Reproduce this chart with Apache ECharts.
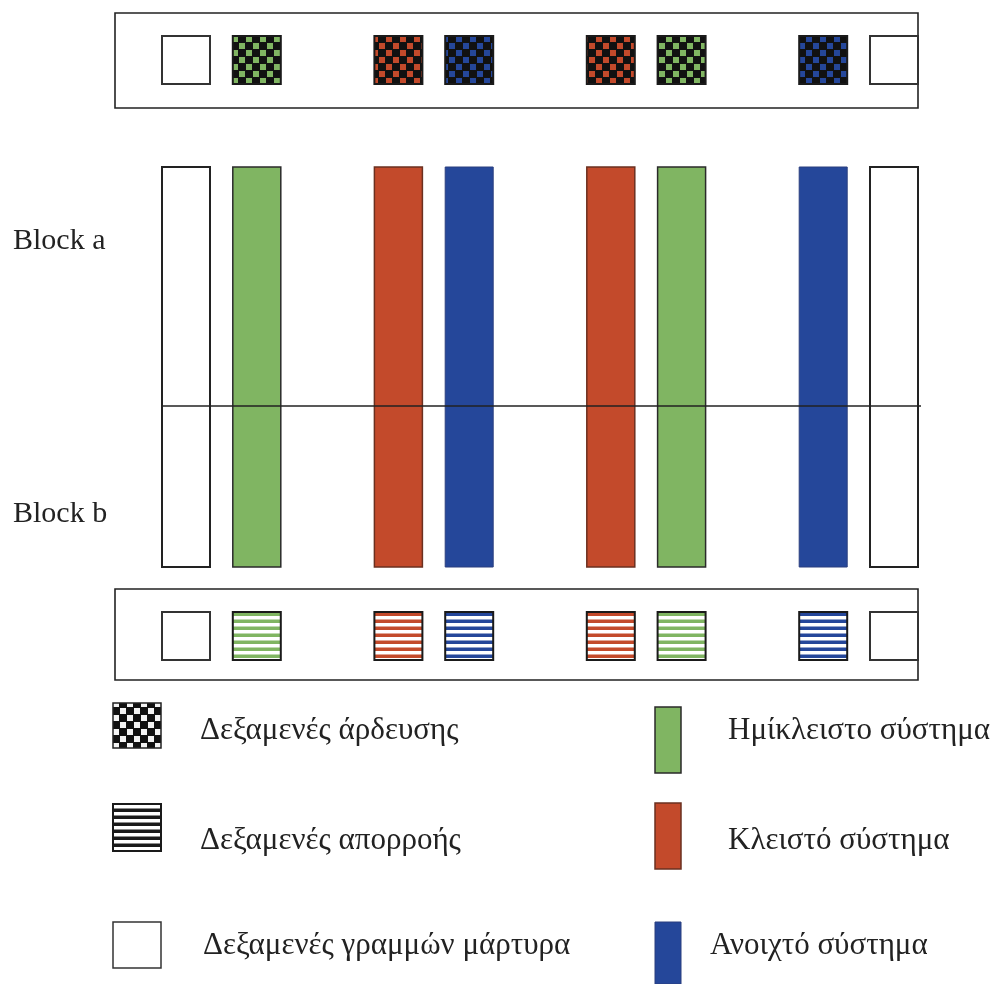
<!DOCTYPE html>
<html>
<head>
<meta charset="utf-8">
<script src="https://cdn.jsdelivr.net/npm/echarts@6/dist/echarts.min.js"></script>
<style>
html,body{margin:0;padding:0;background:#fff;}
#c{width:999px;height:984px;}
</style>
</head>
<body>
<div id="c"></div>
<script>
// ---- data ----
const plotSlots = [0, 1, 3, 4, 6, 7, 9, 10];
const plotSystems = ['control', 'semi', 'closed', 'open', 'closed', 'semi', 'open', 'control'];
const blockNames = ['Block a', 'Block b'];
const blockBoundary = 40.25; // % of plot length from bottom where block a meets block b
const tankLegend = ['Δεξαμενές άρδευσης', 'Δεξαμενές απορροής', 'Δεξαμενές γραμμών μάρτυρα'];
const systemLegendKeys = ['semi', 'closed', 'open'];
const systemLegend = ['Ημίκλειστο σύστημα', 'Κλειστό σύστημα', 'Ανοιχτό σύστημα'];

// ---- styles ----
const FONT = '"Liberation Serif", "DejaVu Serif", serif';
const sysColor = { control: '#ffffff', semi: '#80b562', closed: '#c34a2b', open: '#25479a' };
const sysStroke = { control: '#222', semi: '#2a2a2a', closed: '#6b3020', open: '#2b3f7e' };
const sysLine = { control: 2, semi: 1.5, closed: 1.5, open: 1 };

function checker(color, cell) {
  const c = document.createElement('canvas');
  c.width = cell * 2; c.height = cell * 2;
  const g = c.getContext('2d');
  g.fillStyle = '#111'; g.fillRect(0, 0, c.width, c.height);
  g.fillStyle = color;
  g.fillRect(1, 1, cell - 1, cell - 1);
  g.fillRect(cell + 1, cell + 1, cell - 1, cell - 1);
  return { image: c, repeat: 'repeat' };
}
function stripes(color, period, lw) {
  const c = document.createElement('canvas');
  c.width = 4; c.height = period;
  const g = c.getContext('2d');
  g.fillStyle = '#fff'; g.fillRect(0, 0, c.width, c.height);
  g.fillStyle = color; g.fillRect(0, period - lw, c.width, lw);
  return { image: c, repeat: 'repeat' };
}

const chart = echarts.init(document.getElementById('c'), null, { renderer: 'canvas' });
const BAR_W = 48, TANK = 48;

function barItem(params, api) {
  const i = api.value(1);
  const sys = plotSystems[i];
  const top = api.coord([api.value(0), 100]);
  const bot = api.coord([api.value(0), 0]);
  return {
    type: 'rect',
    shape: { x: top[0] - BAR_W / 2, y: top[1], width: BAR_W, height: bot[1] - top[1] },
    style: { fill: sysColor[sys], stroke: sysStroke[sys], lineWidth: sysLine[sys] }
  };
}
function tankItem(kind) {
  return function (params, api) {
    const i = api.value(1);
    const sys = plotSystems[i];
    const p = api.coord([api.value(0), 0]);
    const cs = params.coordSys;
    const y = kind === 'irrigation' ? cs.y - 131 : cs.y + cs.height + 45;
    let fill;
    if (sys === 'control') fill = '#fff';
    else if (kind === 'irrigation') fill = checker(sysColor[sys], 7);
    else fill = stripes(sysColor[sys], 7, 3.5);
    return {
      type: 'rect',
      shape: { x: p[0] - TANK / 2, y: y, width: TANK, height: TANK },
      style: { fill: fill, stroke: sys === 'control' ? '#333' : '#1a1a1a', lineWidth: 2 }
    };
  };
}
function boundaryItem(params, api) {
  const v = api.value(0);
  const a = api.coord([plotSlots[0], v]);
  const b = api.coord([plotSlots[plotSlots.length - 1], v]);
  return {
    type: 'line',
    shape: { x1: a[0] - BAR_W / 2, y1: a[1], x2: b[0] + BAR_W / 2 + 3, y2: b[1] },
    style: { stroke: '#222', lineWidth: 1.6 }
  };
}

const plotData = plotSlots.map((s, i) => [s, i]);

const legendRows = [731, 841, 946];
const LFONT = '31px ' + FONT;
const graphics = [
  { type: 'rect', shape: { x: 115, y: 13, width: 803, height: 95 }, style: { fill: 'none', stroke: '#222', lineWidth: 1.6 } },
  { type: 'rect', shape: { x: 115, y: 589, width: 803, height: 91 }, style: { fill: 'none', stroke: '#222', lineWidth: 1.6 } },
  { type: 'text', x: 13, y: 241, style: { text: blockNames[0], font: '30px ' + FONT, fill: '#222', verticalAlign: 'middle' } },
  { type: 'text', x: 13, y: 514, style: { text: blockNames[1], font: '30px ' + FONT, fill: '#222', verticalAlign: 'middle' } },
  // tank legend icons
  { type: 'rect', shape: { x: 113, y: 703, width: 48, height: 45 }, style: { fill: checker('#f4f4f4', 7), stroke: '#222', lineWidth: 1.5 } },
  { type: 'rect', shape: { x: 113, y: 804, width: 48, height: 47 }, style: { fill: stripes('#1a1a1a', 7, 3.5), stroke: '#1a1a1a', lineWidth: 2 } },
  { type: 'rect', shape: { x: 113, y: 922, width: 48, height: 46 }, style: { fill: '#fff', stroke: '#333', lineWidth: 1.5 } },
  { type: 'text', x: 200, y: legendRows[0], style: { text: tankLegend[0], font: LFONT, fill: '#222', verticalAlign: 'middle' } },
  { type: 'text', x: 200, y: legendRows[1], style: { text: tankLegend[1], font: LFONT, fill: '#222', verticalAlign: 'middle' } },
  { type: 'text', x: 203, y: legendRows[2], style: { text: tankLegend[2], font: LFONT, fill: '#222', verticalAlign: 'middle' } }
];
const sysRectY = [[707, 66], [803, 66], [922, 62]];
const sysTextX = [728, 728, 710];
systemLegendKeys.forEach((k, i) => {
  graphics.push({ type: 'rect', shape: { x: 655, y: sysRectY[i][0], width: 26, height: sysRectY[i][1] },
    style: { fill: sysColor[k], stroke: sysStroke[k], lineWidth: sysLine[k] } });
  graphics.push({ type: 'text', x: sysTextX[i], y: legendRows[i],
    style: { text: systemLegend[i], font: LFONT, fill: '#222', verticalAlign: 'middle' } });
});

chart.setOption({
  animation: false,
  backgroundColor: '#fff',
  grid: { left: 150.6, top: 167, width: 778.8, height: 400 },
  xAxis: { type: 'value', min: -0.5, max: 10.5, show: false },
  yAxis: { type: 'value', min: 0, max: 100, show: false },
  series: [
    { type: 'custom', name: 'plots', renderItem: barItem, data: plotData, z: 2 },
    { type: 'custom', name: 'boundary', renderItem: boundaryItem, data: [[blockBoundary]], z: 3 },
    { type: 'custom', name: 'irrigation', renderItem: tankItem('irrigation'), data: plotData, z: 2 },
    { type: 'custom', name: 'drainage', renderItem: tankItem('drainage'), data: plotData, z: 2 }
  ],
  graphic: graphics
});
</script>
</body>
</html>
